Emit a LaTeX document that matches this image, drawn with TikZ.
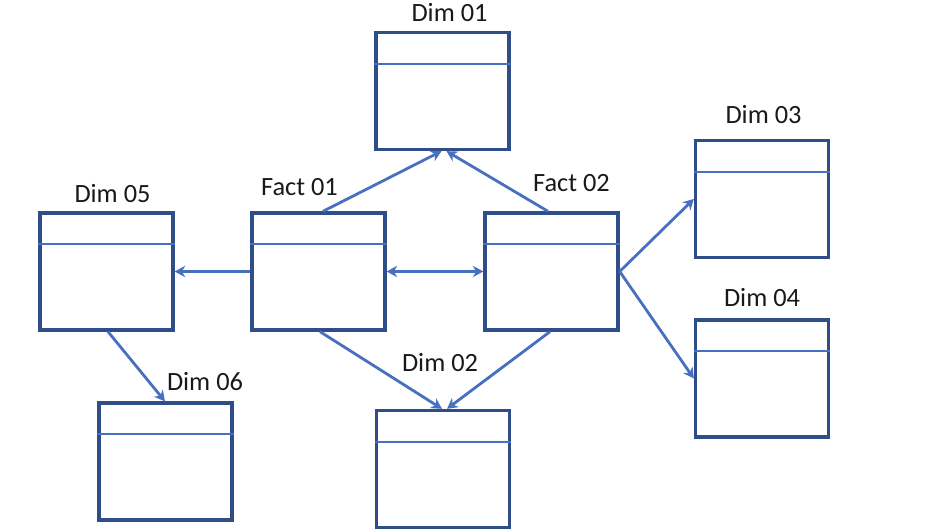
\documentclass[tikz,border=0pt]{standalone}
\usepackage{fontspec}
\setmainfont{Carlito}
\usetikzlibrary{arrows.meta}
\definecolor{tableedge}{RGB}{47,78,135}
\definecolor{linkblue}{RGB}{72,112,192}
\tikzset{
  erd/table/.style={draw=tableedge, line width=1.9pt, fill=white,
    minimum width=2.66cm, minimum height=2.34cm, inner sep=0pt},
  erd/rule/.style={linkblue, line width=1.3pt},
  erd/link/.style={linkblue, line width=1.6pt, -{Stealth[length=6pt,width=6.5pt]}},
  erd/both/.style={erd/link, {Stealth[length=6pt,width=6.5pt]}-{Stealth[length=6pt,width=6.5pt]}},
  erd/name/.style={font=\fontsize{15}{18}\selectfont, inner sep=0pt, text=black!90},
}

\begin{document}
\begin{tikzpicture}
  \useasboundingbox (0,0) rectangle (18.8,10.6);
  % tables
  \node[erd/table] (fact1) at (6.37,5.17) {};
  \node[erd/table] (fact2) at (11.03,5.17) {};
  \node[erd/table] (dim1) at (8.85,8.78) {};
  \node[erd/table] (dim2) at (8.86,1.22) {};
  \node[erd/table] (dim3) at (15.24,6.62) {};
  \node[erd/table] (dim4) at (15.24,3.03) {};
  \node[erd/table] (dim5) at (2.13,5.17) {};
  \node[erd/table] (dim6) at (3.31,1.37) {};
  \foreach \t in {fact1,fact2,dim1,dim2,dim3,dim4,dim5,dim6}
    \draw[erd/rule] ([yshift=-0.66cm]\t.north west) -- ([yshift=-0.66cm]\t.north east);
  % names
  \node[erd/name] (fact1name) at ([xshift=-0.38cm,yshift=0.49cm]fact1.north) {Fact 01};
  \node[erd/name] (fact2name) at ([xshift=0.40cm,yshift=0.56cm]fact2.north) {Fact 02};
  \node[erd/name] (dim1name) at ([xshift=0.14cm,yshift=0.37cm]dim1.north) {Dim 01};
  \node[erd/name] (dim2name) at ([xshift=-0.06cm,yshift=0.92cm]dim2.north) {Dim 02};
  \node[erd/name] (dim3name) at ([xshift=0.03cm,yshift=0.49cm]dim3.north) {Dim 03};
  \node[erd/name] (dim4name) at ([yshift=0.42cm]dim4.north) {Dim 04};
  \node[erd/name] (dim5name) at ([xshift=0.12cm,yshift=0.36cm]dim5.north) {Dim 05};
  \node[erd/name] (dim6name) at ([xshift=0.79cm,yshift=0.39cm]dim6.north) {Dim 06};
  % links
  \draw[erd/link] ([xshift=0.09cm]fact1.north) -- ([xshift=-0.02cm]dim1.south);
  \draw[erd/link] ([xshift=-0.07cm]fact2.north) -- ([xshift=0.08cm]dim1.south);
  \draw[erd/link] (fact1.west) -- (dim5.east);
  \draw[erd/both] (fact1.east) -- (fact2.west);
  \draw[erd/link] ([xshift=0.03cm]fact1.south) -- ([xshift=-0.02cm]dim2.south |- dim2.north);
  \draw[erd/link] ([xshift=-0.03cm]fact2.south) -- ([xshift=0.08cm]dim2.south |- dim2.north);
  \draw[erd/link] (fact2.east) -- (dim3.west);
  \draw[erd/link] (fact2.east) -- (dim4.west);
  \draw[erd/link] ([xshift=0.03cm]dim5.south) -- ([xshift=-0.01cm]dim6.north);
\end{tikzpicture}
\end{document}
